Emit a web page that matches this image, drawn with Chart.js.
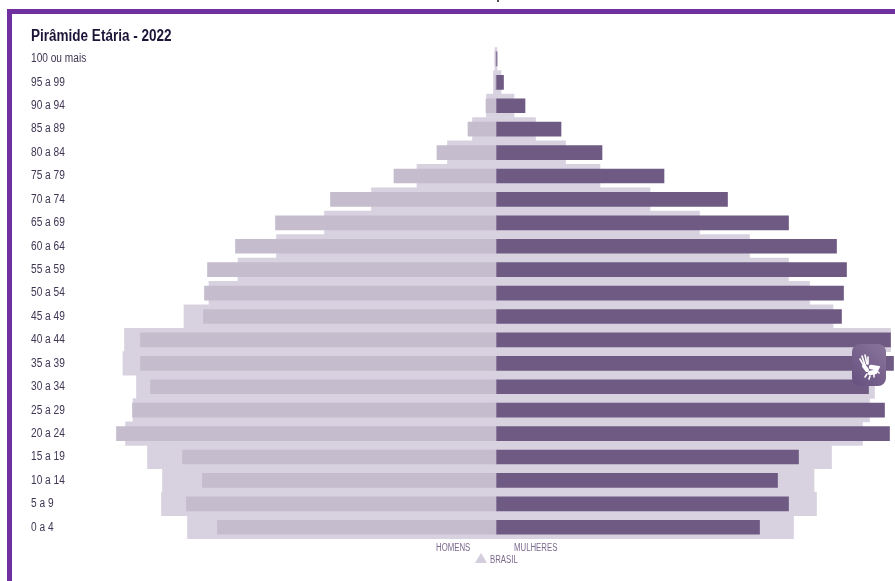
<!DOCTYPE html>
<html lang="pt-BR">
<head>
<meta charset="utf-8">
<title>Pirâmide Etária - 2022</title>
<script src="https://cdn.jsdelivr.net/npm/chart.js@4"></script>
<style>
  html, body { margin: 0; padding: 0; background: #fff; overflow: hidden; }
  #wrap { position: relative; width: 895px; height: 581px; }
  #frame { position: absolute; left: 7px; top: 9px; width: 888px; height: 572px; box-sizing: border-box;
           border-top: 5px solid #7030a0; border-left: 5px solid #7030a0; }
  #ponto { position: absolute; left: 497px; top: 0; width: 2px; height: 2px; background: #555; }
  canvas { position: absolute; left: 0; top: 0; }
  .leg { position: absolute; font: 10px "Liberation Sans", sans-serif; color: #7b6a8e; line-height: 12px;
         transform: scaleX(0.78); transform-origin: left center; }
  #tri { position: absolute; left: 475px; top: 553px; width: 0; height: 0;
         border-left: 6px solid transparent; border-right: 6px solid transparent; border-bottom: 10px solid #d3cddd; }
  #libras { position: absolute; left: 852px; top: 344px; width: 34px; height: 42px; border-radius: 8px;
            background: linear-gradient(45deg, #664f7e, #8a769c); }
</style>
</head>
<body>
<div id="wrap">
  <div id="ponto"></div>
  <div id="frame"></div>
  <canvas id="piramide" width="895" height="581"></canvas>
  <span class="leg" style="left:436px;top:542px">HOMENS</span>
  <span class="leg" style="left:514px;top:542px">MULHERES</span>
  <div id="tri"></div>
  <span class="leg" style="left:490px;top:554px">BRASIL</span>
  <div id="libras">
    <svg width="34" height="42" viewBox="0 0 34 42">
      <g fill="none" stroke="#fff" stroke-linecap="round">
        <path d="M8 15 L12 22 M10 12 L13 21 M13 11 L15 20 M16 13 L16 20" stroke-width="1.6"/>
        <path d="M12 22 L15 26" stroke-width="4"/>
        <path d="M19 23 L25 24 L23 28 L18 29" stroke-width="4.5"/>
        <path d="M15 30 L13 33 M18 32 L17 35 M22 30 L22 33 M25 27 L27 29" stroke-width="1.6"/>
      </g>
    </svg>
  </div>
</div>
<script>
const faixas = ["100 ou mais", "95 a 99", "90 a 94", "85 a 89", "80 a 84", "75 a 79", "70 a 74",
  "65 a 69", "60 a 64", "55 a 59", "50 a 54", "45 a 49", "40 a 44", "35 a 39", "30 a 34",
  "25 a 29", "20 a 24", "15 a 19", "10 a 14", "5 a 9", "0 a 4"];

// local
const homens = [-0.01, -0.01, -0.10, -0.28, -0.59, -1.02, -1.655, -2.205, -2.605, -2.885, -2.915,
  -2.925, -3.555, -3.555, -3.455, -3.635, -3.795, -3.135, -2.935, -3.095, -2.785];
const mulheres = [0.01, 0.075, 0.29, 0.65, 1.06, 1.68, 2.315, 2.925, 3.405, 3.505, 3.475,
  3.455, 3.945, 3.975, 3.725, 3.885, 3.935, 3.025, 2.815, 2.925, 2.635];

// Brasil
const homensBrasil = [-0.01, -0.025, -0.095, -0.235, -0.485, -0.79, -1.245, -1.715, -2.195, -2.58, -2.87,
  -3.12, -3.715, -3.73, -3.595, -3.63, -3.705, -3.485, -3.335, -3.345, -3.085];
const mulheresBrasil = [0.01, 0.05, 0.18, 0.395, 0.695, 1.04, 1.54, 2.035, 2.535, 2.925, 3.135,
  3.37, 3.945, 3.875, 3.785, 3.735, 3.665, 3.355, 3.18, 3.205, 2.975];

const corBrasil = "#d8d2e0";
const corHomens = "#c5bccd";
const corMulheres = "#6e5a82";

// nao tem fonte condensada instalada, entao aperta o texto na horizontal
const textoEstreito = {
  id: "textoEstreito",
  beforeInit(chart) {
    const ctx = chart.ctx;
    const fillText = ctx.fillText.bind(ctx);
    ctx.fillText = function (texto, x, y) {
      ctx.save();
      ctx.translate(x, y);
      ctx.scale(0.845, 1);
      fillText(texto, 0, 0);
      ctx.restore();
    };
  },
};

new Chart(document.getElementById("piramide"), {
  type: "bar",
  plugins: [textoEstreito],
  data: {
    labels: faixas,
    datasets: [
      { label: "Homens", data: homens, backgroundColor: corHomens, barThickness: 14, order: 1 },
      { label: "Mulheres", data: mulheres, backgroundColor: corMulheres, barThickness: 14, order: 1 },
      { label: "Homens Brasil", data: homensBrasil, backgroundColor: corBrasil, order: 2 },
      { label: "Mulheres Brasil", data: mulheresBrasil, backgroundColor: corBrasil, order: 2 },
    ],
  },
  options: {
    indexAxis: "y",
    responsive: false,
    animation: false,
    grouped: false,
    barPercentage: 1,
    categoryPercentage: 1,
    layout: { padding: { left: 31, top: 27, right: 0, bottom: 42 } },
    scales: {
      x: {
        display: false,
        min: -3.96,
        max: 3.99,
      },
      y: {
        grid: { display: false },
        border: { display: false },
        afterFit: (axis) => { axis.width = 69; },
        ticks: {
          crossAlign: "far",
          autoSkip: false,
          padding: 0,
          color: "#3f3553",
          font: { family: "'Liberation Sans', sans-serif", size: 12 },
        },
      },
    },
    plugins: {
      legend: { display: false },
      tooltip: { enabled: false },
      title: {
        display: true,
        text: "Pirâmide Etária - 2022",
        align: "start",
        color: "#1d1538",
        padding: { top: 0, bottom: 1 },
        font: { family: "'Liberation Sans', sans-serif", size: 16, weight: "bold" },
      },
    },
  },
});
</script>
</body>
</html>
